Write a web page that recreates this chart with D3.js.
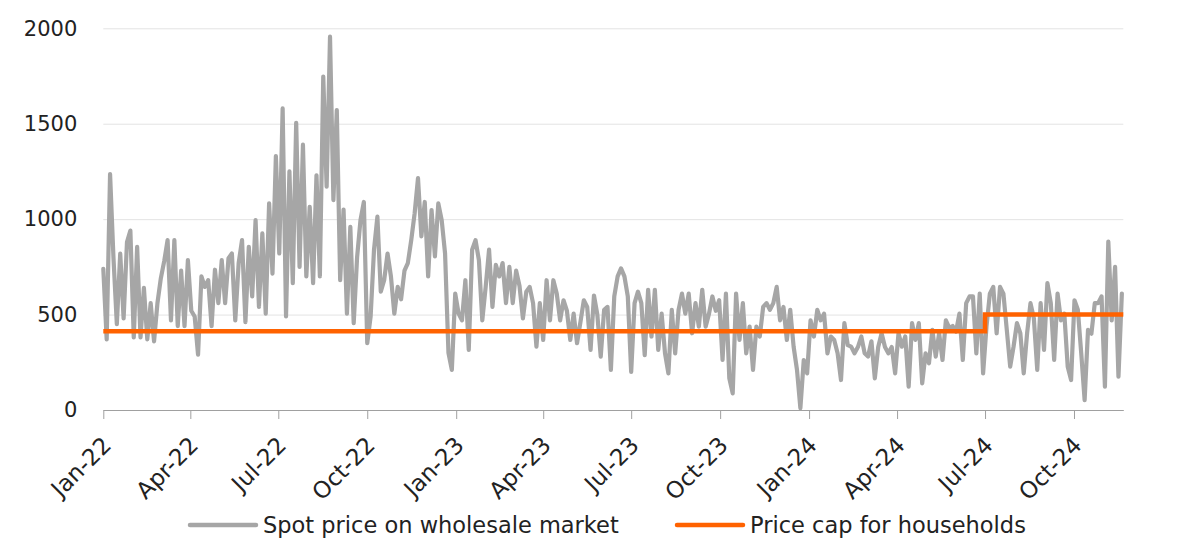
<!DOCTYPE html>
<html><head><meta charset="utf-8">
<script src="https://cdn.jsdelivr.net/npm/d3@7"></script>
<style>body{margin:0;background:#fff;} svg{display:block;} text{font-family:"DejaVu Sans",sans-serif;}</style>
</head><body><svg id="c" width="1200" height="554"></svg>
<script>
// ---- data ----
const startDate = "2022-01-01";   // first observation
const stepDays = 3.5;             // spacing between observations
const spot2022 = [740,370,1236,800,450,820,480,880,940,380,855,380,640,370,560,360,560,690,780,890,470,890,440,730,440,785,520,490,290,700,645,680,440,735,560,785,560,795,
  820,470,770,890,460,855,595,995,540,925,505,1083,715,1330,820,1580,490,1250,665,1505,750,1390,700,1065,665,1230,700,1747,1170,1956,1100,1572,680,1050,505,960,455,800,
  995,1090,350,490,840,1013,620,680,820,700,505,645,580,730,770,890,1030,1215,910,1090,700,1048,805,1083,995,820,300,210,610];
const spot2023 = [505,470,680,315,840,890,785,470,645,
  840,540,760,700,770,560,750,560,730,650,480,620,645,560,332,560,367,680,470,680,610,470,575,520,367,505,350,460,575,540,315,600,500,280,525,540,210,595,700,
  742,700,595,200,560,620,560,288,630,385,630,315,505,297,192,525,297,525,610,505,610,402,560,437,630,437,505,595,520,575,262,610,166,87,610,367,560,297,
  437,210,437,385,540,560,525,560,645,470,540,367,525,332,210,10,262,192];
const spot2024 = [470,385,525,470,505,297,385,367,297,157,455,340,332,297,330,385,297,280,360,166,330,
  402,330,297,330,192,402,332,385,122,455,367,455,140,297,245,420,280,402,262,470,430,440,410,505,262,560,595,595,297,610,192,437,610,645,402,645,610,420,
  227,332,455,402,192,402,560,480,210,560,315,665,560,262,610,470,505,227,157,575,525,297,52,420,400,560,560,595,122,882,470,750,175,610];
const capDates = ["2022-01-01","2024-07-01","2024-11-21"];
const capValues = [412, 500, 500];
const axisStart = "2022-01-01", axisEnd = "2024-11-21";
const yTicks = [0, 500, 1000, 1500, 2000];
const seriesNames = ["Spot price on wholesale market", "Price cap for households"];
const colors = ["#A6A6A6", "#FF6200"];

// ---- build ----
const parse = d3.utcParse("%Y-%m-%d");
const t0 = parse(startDate);
const spotValues = spot2022.concat(spot2023, spot2024);
const spot = spotValues.map((v, i) => ({date: new Date(t0.getTime() + i * stepDays * 864e5), value: v}));
const cap = capDates.map((d, i) => ({date: parse(d), value: capValues[i]}));

const svg = d3.select("#c");
const L = 103.3, R = 1123.3, T = 28.3, B = 410;
const x = d3.scaleUtc().domain([parse(axisStart), parse(axisEnd)]).range([L, R]);
const y = d3.scaleLinear().domain([0, 2000]).range([B, T]);

// grid + y labels
const gy = svg.append("g").attr("transform", `translate(${L},0)`)
  .call(d3.axisLeft(y).tickValues(yTicks).tickSize(-(R - L)).tickPadding(26).tickFormat(d3.format("d")));
gy.select(".domain").remove();
gy.selectAll(".tick line").attr("stroke", "#e3e3e3").attr("stroke-width", 1);
gy.selectAll(".tick text").attr("fill", "#222").style("font-size", "21px");

// x axis
const xTicks = d3.utcMonth.every(3).range(parse(axisStart), parse(axisEnd));
const gx = svg.append("g").attr("transform", `translate(0,${B})`)
  .call(d3.axisBottom(x).tickValues(xTicks).tickSize(9).tickSizeOuter(0).tickFormat(d3.utcFormat("%b-%y")));
gx.select(".domain").attr("stroke", "#a0a0a0");
gx.selectAll(".tick line").attr("stroke", "#a0a0a0");
gx.selectAll(".tick text").attr("fill", "#222").style("font-size", "23px")
  .attr("text-anchor", "end").attr("x", 0).attr("y", 0).attr("dy", "0.35em")
  .attr("transform", "translate(3,31) rotate(-45)");

// lines
svg.append("path").datum(spot)
  .attr("fill", "none").attr("stroke", colors[0]).attr("stroke-width", 4.2)
  .attr("stroke-linejoin", "round").attr("stroke-linecap", "round")
  .attr("d", d3.line().x(d => x(d.date)).y(d => y(d.value)));
svg.append("path").datum(cap)
  .attr("fill", "none").attr("stroke", colors[1]).attr("stroke-width", 4.5)
  .attr("d", d3.line().curve(d3.curveStepAfter).x(d => x(d.date)).y(d => y(d.value)));

// legend
const legendX = [190, 677];
seriesNames.forEach((name, i) => {
  const g = svg.append("g").attr("transform", `translate(${legendX[i]},525)`);
  g.append("line").attr("x1", 0).attr("x2", 66).attr("stroke", colors[i]).attr("stroke-width", 4.5).attr("stroke-linecap", "round");
  g.append("text").attr("x", 73).attr("dy", "0.35em").attr("fill", "#222").style("font-size", "22.5px").text(name);
});
</script></body></html>
